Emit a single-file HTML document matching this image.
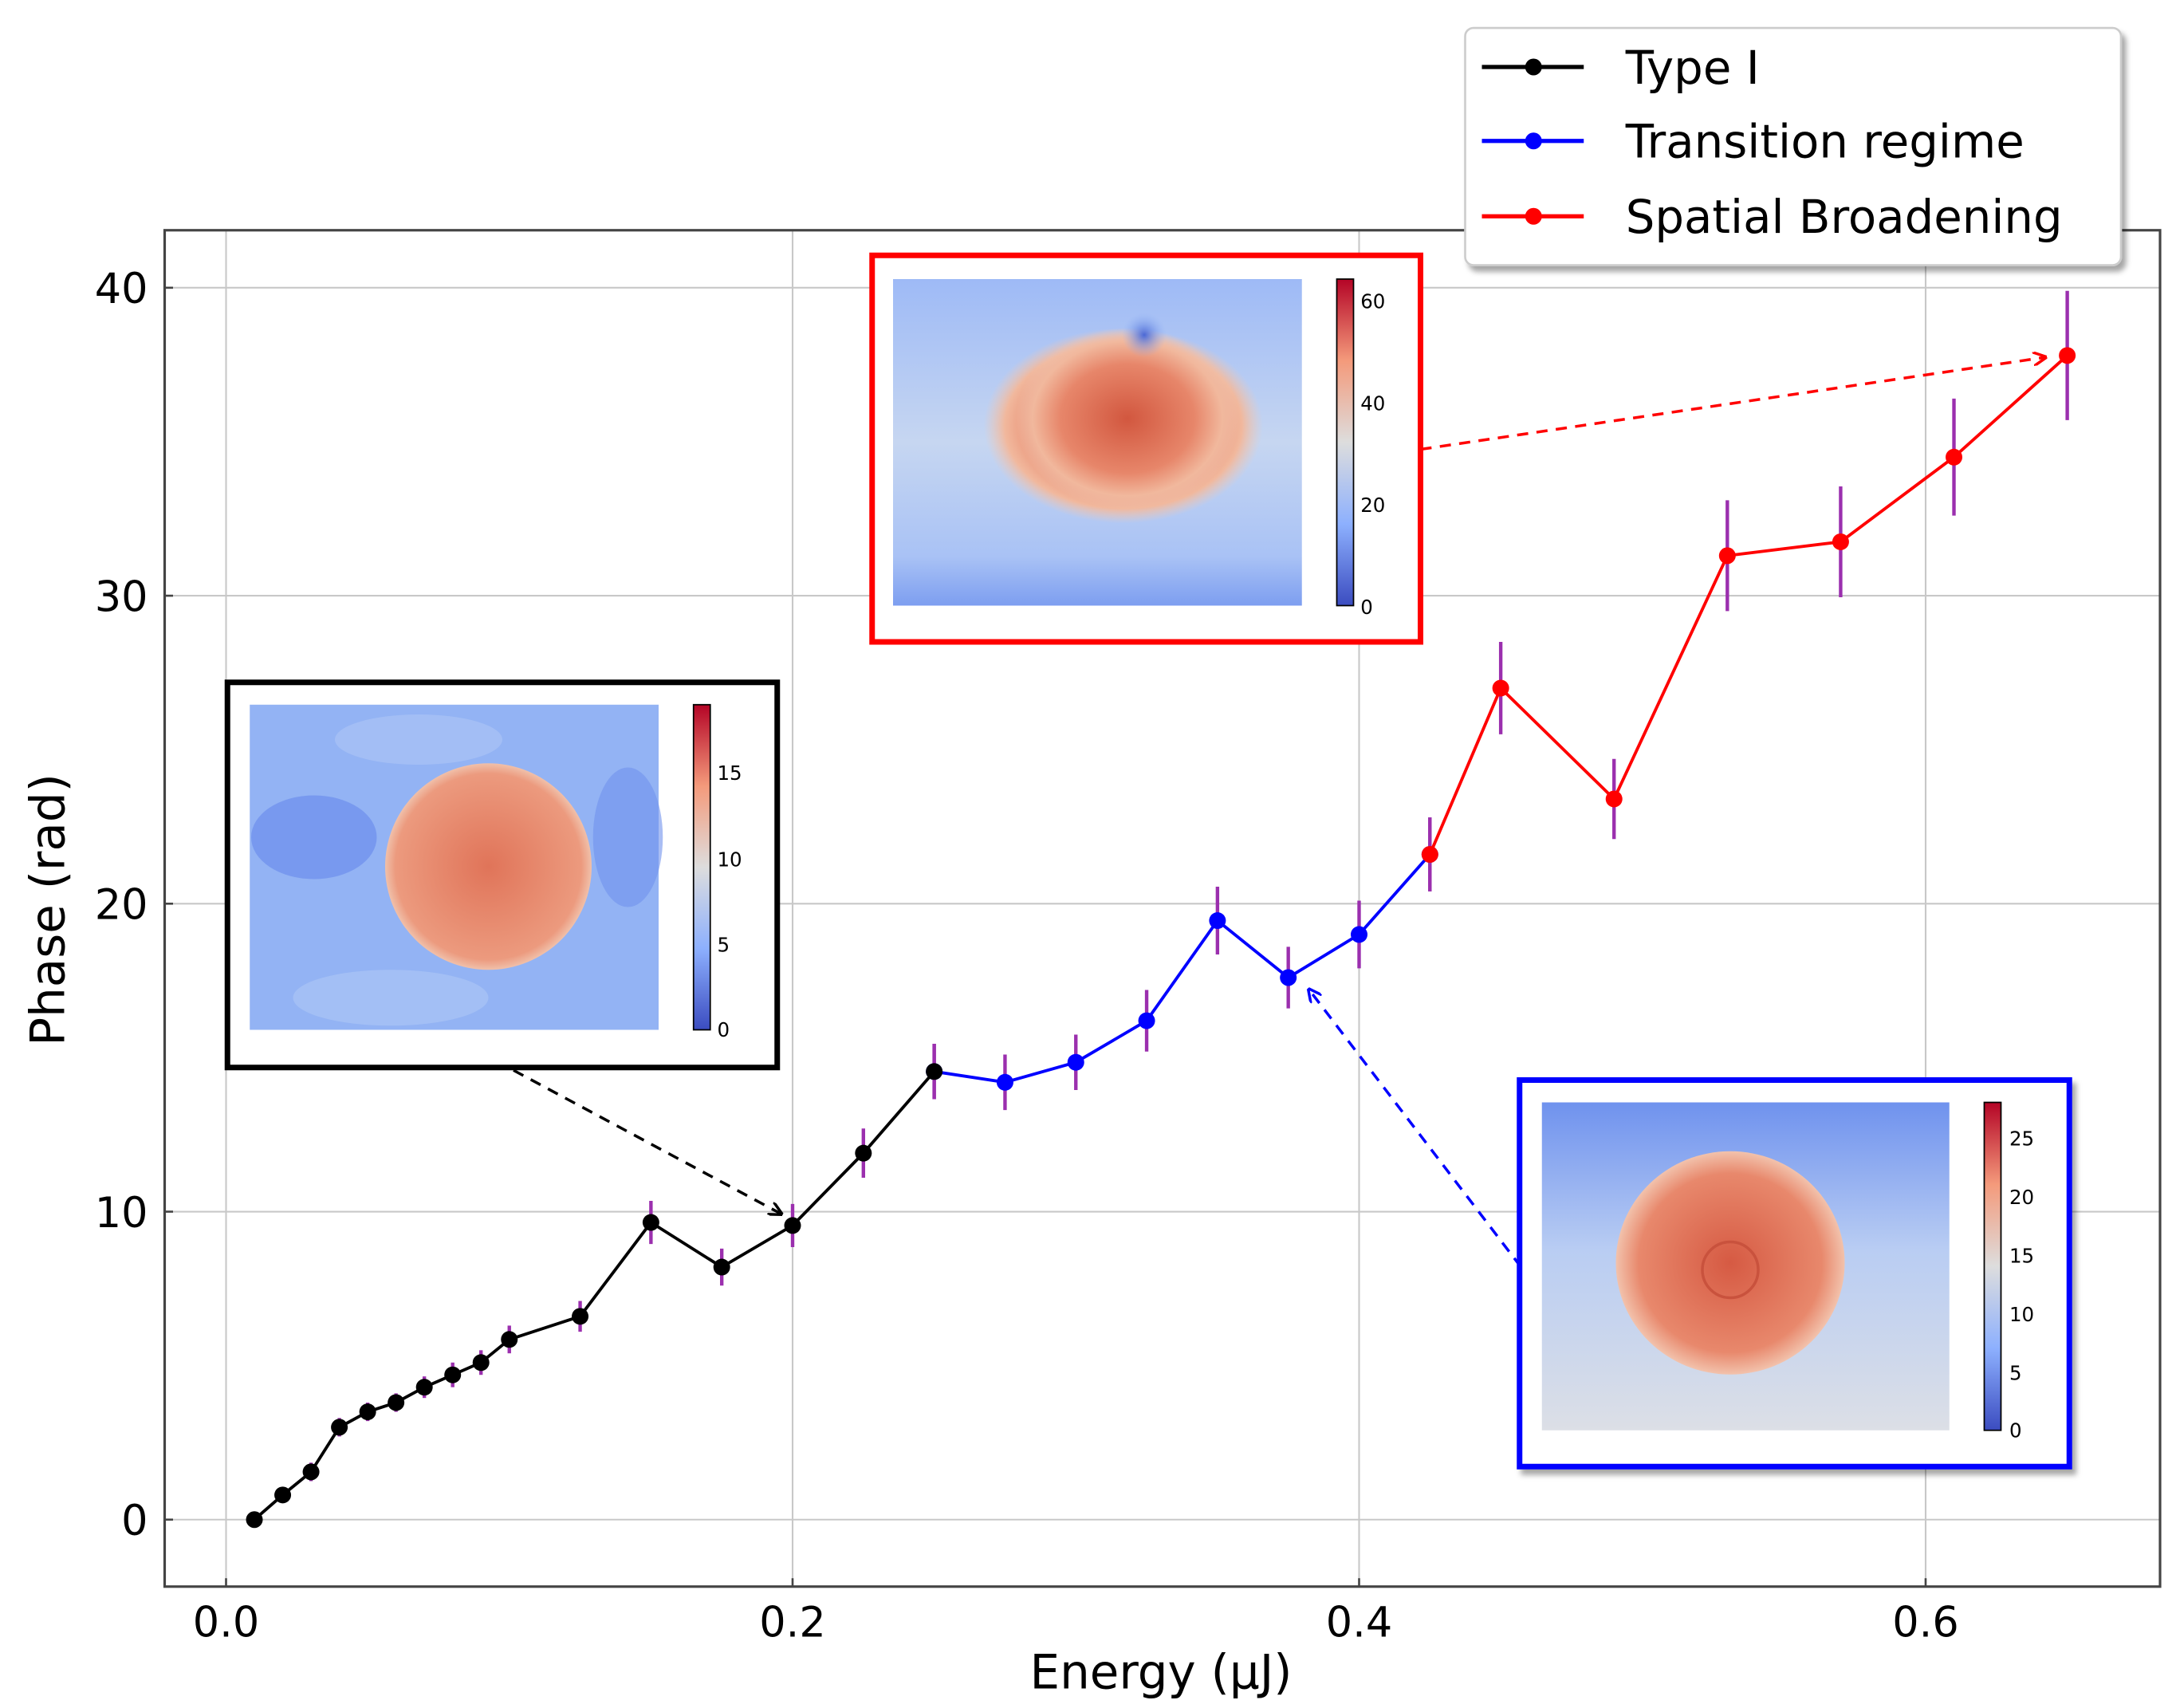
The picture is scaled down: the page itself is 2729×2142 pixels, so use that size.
<!DOCTYPE html>
<html><head><meta charset="utf-8"><style>
html,body{margin:0;padding:0;background:#fff}
svg{display:block}
text{font-family:"DejaVu Sans","Liberation Sans",sans-serif}
</style></head><body>
<svg id="chart" width="2729" height="2142" viewBox="0 0 1559.43 1224" xmlns="http://www.w3.org/2000/svg">
<defs>
<linearGradient id="cw" x1="0" y1="1" x2="0" y2="0">
<stop offset="0" stop-color="#3b4cc0"/><stop offset="0.25" stop-color="#8db0fe"/><stop offset="0.5" stop-color="#dddddd"/><stop offset="0.75" stop-color="#f49a7b"/><stop offset="1" stop-color="#b40426"/></linearGradient>
<radialGradient id="redSpot" cx="0.5" cy="0.5" r="0.5"><stop offset="0" stop-color="#d2573f"/><stop offset="0.6" stop-color="#e7866a"/><stop offset="0.85" stop-color="#f1b89d"/><stop offset="1" stop-color="#f1c9b5" stop-opacity="0"/></radialGradient>
<radialGradient id="blackSpot" cx="0.5" cy="0.5" r="0.5"><stop offset="0" stop-color="#e07459"/><stop offset="0.9" stop-color="#ec9a7e"/><stop offset="1" stop-color="#f0c0aa"/></radialGradient>
<radialGradient id="blueSpot" cx="0.5" cy="0.5" r="0.5"><stop offset="0" stop-color="#d65a43"/><stop offset="0.8" stop-color="#e8886c"/><stop offset="1" stop-color="#f2c2ac"/></radialGradient>
<radialGradient id="darkBlob" cx="0.5" cy="0.5" r="0.5"><stop offset="0" stop-color="#4a68d6"/><stop offset="1" stop-color="#8fb0f5" stop-opacity="0"/></radialGradient>
<linearGradient id="blueBg" x1="0" y1="0" x2="0" y2="1"><stop offset="0" stop-color="#6f92ee"/><stop offset="0.45" stop-color="#b9cdf3"/><stop offset="1" stop-color="#dcdfe6"/></linearGradient>
<linearGradient id="redBg" x1="0" y1="0" x2="0" y2="1"><stop offset="0" stop-color="#9ebaf6"/><stop offset="0.5" stop-color="#c6d6f1"/><stop offset="0.85" stop-color="#a9c2f5"/><stop offset="1" stop-color="#7d9ef0"/></linearGradient>
<marker id="ahK" markerWidth="10" markerHeight="10" refX="9" refY="5" orient="auto" markerUnits="userSpaceOnUse"><path d="M0,0 L10,5 L0,10" fill="none" stroke="#000" stroke-width="2"/></marker>
<marker id="ahR" markerWidth="10" markerHeight="10" refX="9" refY="5" orient="auto" markerUnits="userSpaceOnUse"><path d="M0,0 L10,5 L0,10" fill="none" stroke="#f00" stroke-width="2"/></marker>
<marker id="ahB" markerWidth="10" markerHeight="10" refX="9" refY="5" orient="auto" markerUnits="userSpaceOnUse"><path d="M0,0 L10,5 L0,10" fill="none" stroke="#00f" stroke-width="2"/></marker>
<filter id="sh" x="-10%" y="-10%" width="130%" height="130%"><feDropShadow dx="3" dy="4" stdDeviation="2" flood-color="#000" flood-opacity="0.35"/></filter>
</defs>
<g id="grid"></g>
<g id="axes"></g>
<g id="series"></g>

<!-- Insets -->
<g>
<rect x="163" y="489" width="394" height="276" fill="#fff" stroke="#000" stroke-width="4"/>
<rect x="179" y="505" width="293" height="233" fill="#93b3f4"/>
<ellipse cx="225" cy="600" rx="45" ry="30" fill="#6c8eec" opacity="0.7"/>
<ellipse cx="450" cy="600" rx="25" ry="50" fill="#6f91ec" opacity="0.6"/>
<ellipse cx="300" cy="530" rx="60" ry="18" fill="#a9c3f5" opacity="0.7"/>
<ellipse cx="280" cy="715" rx="70" ry="20" fill="#aac4f5" opacity="0.7"/>
<ellipse cx="350" cy="621" rx="74" ry="74" fill="url(#blackSpot)"/>
<rect x="497" y="505" width="12" height="233" fill="url(#cw)" stroke="#000" stroke-width="1"/>
<g font-size="14" fill="#000"><text x="514" y="743">0</text><text x="514" y="682">5</text><text x="514" y="621">10</text><text x="514" y="559">15</text></g>
</g>
<g>
<rect x="625" y="183" width="393" height="277" fill="#fff" stroke="#f00" stroke-width="4"/>
<rect x="640" y="200" width="293" height="234" fill="url(#redBg)"/>
<ellipse cx="805" cy="305" rx="100" ry="70" fill="url(#redSpot)"/>
<ellipse cx="808" cy="300" rx="80" ry="65" fill="url(#redSpot)"/>
<ellipse cx="820" cy="240" rx="16" ry="16" fill="url(#darkBlob)"/>
<rect x="958" y="200" width="12" height="234" fill="url(#cw)" stroke="#000" stroke-width="1"/>
<g font-size="14" fill="#000"><text x="975" y="440">0</text><text x="975" y="367">20</text><text x="975" y="294">40</text><text x="975" y="221">60</text></g>
</g>
<g>
<rect x="1089" y="774" width="394" height="277" fill="#fff" stroke="#00f" stroke-width="4" filter="url(#sh)"/>
<rect x="1105" y="790" width="292" height="235" fill="url(#blueBg)"/>
<ellipse cx="1240" cy="905" rx="82" ry="80" fill="url(#blueSpot)"/>
<circle cx="1240" cy="910" r="20" fill="none" stroke="#c9523d" stroke-width="2"/>
<rect x="1422" y="790" width="12" height="235" fill="url(#cw)" stroke="#000" stroke-width="1"/>
<g font-size="14" fill="#000"><text x="1440" y="1030">0</text><text x="1440" y="989">5</text><text x="1440" y="947">10</text><text x="1440" y="905">15</text><text x="1440" y="863">20</text><text x="1440" y="821">25</text></g>
</g>
<g>
<line x1="368" y1="767" x2="560" y2="870" stroke="#000" stroke-width="2" stroke-dasharray="8,6" marker-end="url(#ahK)"/>
<line x1="1018" y1="322" x2="1466" y2="256" stroke="#f00" stroke-width="2" stroke-dasharray="8,6" marker-end="url(#ahR)"/>
<line x1="1090" y1="908" x2="938" y2="709" stroke="#00f" stroke-width="2" stroke-dasharray="8,6" marker-end="url(#ahB)"/>
</g>

<g>
<rect x="1050" y="20" width="470" height="170" rx="6" fill="#fff" stroke="#ccc" stroke-width="1.5" filter="url(#sh)"/>
<g><line x1="1062" y1="48" x2="1135" y2="48" stroke="#000" stroke-width="3"/><circle cx="1099" cy="48" r="6" fill="#000"/><text x="1165" y="60" font-size="33">Type I</text></g>
<g><line x1="1062" y1="101" x2="1135" y2="101" stroke="#00f" stroke-width="3"/><circle cx="1099" cy="101" r="6" fill="#00f"/><text x="1165" y="113" font-size="33">Transition regime</text></g>
<g><line x1="1062" y1="155" x2="1135" y2="155" stroke="#f00" stroke-width="3"/><circle cx="1099" cy="155" r="6" fill="#f00"/><text x="1165" y="167" font-size="33">Spatial Broadening</text></g>
</g>
</svg>
<script>
const xTicks = [0.0, 0.2, 0.4, 0.6];
const xTickLabels = ["0.0", "0.2", "0.4", "0.6"];
const yTicks = [0, 10, 20, 30, 40];
const yTickLabels = ["0", "10", "20", "30", "40"];
const typeIx = [0.01,0.02,0.03,0.04,0.05,0.06,0.07,0.08,0.09,0.10,0.125,0.15,0.175,0.20,0.225,0.25];
const typeIy = [0.0,0.8,1.55,3.0,3.5,3.8,4.3,4.7,5.1,5.85,6.6,9.65,8.2,9.55,11.9,14.55];
const typeIerr = [0,0.2,0.3,0.3,0.3,0.3,0.35,0.4,0.4,0.45,0.5,0.7,0.6,0.7,0.8,0.9];
const transX = [0.25,0.275,0.30,0.325,0.35,0.375,0.40,0.425];
const transY = [14.55,14.2,14.85,16.2,19.45,17.6,19.0,21.6];
const transErr = [0.9,0.9,0.9,1.0,1.1,1.0,1.1,1.2];
const spatX = [0.425,0.45,0.49,0.53,0.57,0.61,0.65];
const spatY = [21.6,27.0,23.4,31.3,31.75,34.5,37.8];
const spatErr = [1.2,1.5,1.3,1.8,1.8,1.9,2.1];

const NS = "http://www.w3.org/2000/svg";
const L = 118, R = 1548, T = 165, B = 1137;
function xs(v){ return 162 + v * 2030; }
function ys(v){ return 1089 - v * 22.07; }
function mk(tag, attrs, parent){ const e = document.createElementNS(NS, tag); for (const k in attrs) e.setAttribute(k, attrs[k]); parent.appendChild(e); return e; }
const grid = document.getElementById('grid'), axes = document.getElementById('axes'), series = document.getElementById('series');
xTicks.forEach((t, i) => {
  const g = mk('line', {x1: xs(t), x2: xs(t), y1: T, y2: B, stroke: '#c8c8c8', 'stroke-width': 1.2}, grid);
  
  
  const tk = mk('line', {x1: xs(t), x2: xs(t), y1: B, y2: B - 6, stroke: '#444', 'stroke-width': 1.5}, axes);
  
  
  const tx = mk('text', {x: xs(t), y: B + 36, 'font-size': 30, 'text-anchor': 'middle'}, axes);
  tx.textContent = xTickLabels[i];
  
  
});
yTicks.forEach((t, i) => {
  const g = mk('line', {x1: L, x2: R, y1: ys(t), y2: ys(t), stroke: '#c8c8c8', 'stroke-width': 1.2}, grid);
  
  
  const tk = mk('line', {x1: L, x2: L + 6, y1: ys(t), y2: ys(t), stroke: '#444', 'stroke-width': 1.5}, axes);
  
  
  const tx = mk('text', {x: 106, y: ys(t) + 11, 'font-size': 30, 'text-anchor': 'end'}, axes);
  tx.textContent = yTickLabels[i];
  
  
});
const frame = mk('rect', {x: L, y: T, width: R - L, height: B - T, fill: 'none', stroke: '#444', 'stroke-width': 1.8}, axes);


const xl = mk('text', {x: 832, y: 1210, 'font-size': 34, 'text-anchor': 'middle'}, axes);
xl.textContent = 'Energy (μJ)';


const yl = mk('text', {x: 0, y: 0, 'font-size': 34, 'text-anchor': 'middle', transform: 'translate(46,652) rotate(-90)'}, axes);
yl.textContent = 'Phase (rad)';



function drawSeries(X, Y, E, color, name){
  const g = mk('g', {}, series);
  
  
  X.forEach((x, i) => {
    if (E[i] > 0) {
      const eb = mk('line', {x1: xs(x), x2: xs(x), y1: ys(Y[i] - E[i]), y2: ys(Y[i] + E[i]), stroke: '#9b2fae', 'stroke-width': 2.5}, g);
      
      
    }
  });
  const pl = mk('polyline', {points: X.map((x, i) => xs(x) + ',' + ys(Y[i])).join(' '), fill: 'none', stroke: color, 'stroke-width': 2.2}, g);
  
  
  X.forEach((x, i) => {
    const c = mk('circle', {cx: xs(x), cy: ys(Y[i]), r: 6, fill: color}, g);
    
    
  });
}
drawSeries(transX, transY, transErr, '#0000ff', 'series-transition-regime');
drawSeries(spatX, spatY, spatErr, '#ff0000', 'series-spatial-broadening');
drawSeries(typeIx, typeIy, typeIerr, '#000000', 'series-type-i');
</script>
</body></html>
